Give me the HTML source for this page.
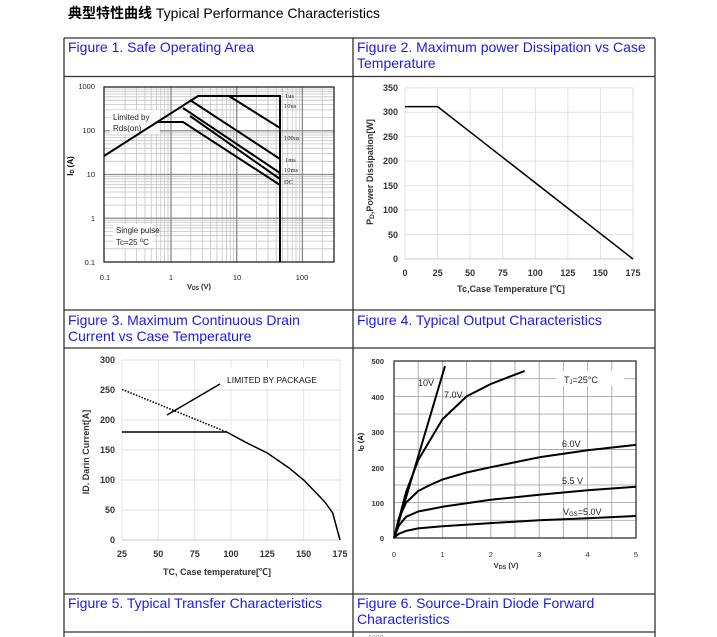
<!DOCTYPE html>
<html><head><meta charset="utf-8"><style>
body{margin:0;background:#fff;}
svg{display:block;font-family:"Liberation Sans","Noto Sans CJK SC",sans-serif;}
.h{fill:#1a1aee;font-size:14px;}
.t{font-size:9px;font-weight:bold;fill:#333;}
.s{font-size:8px;fill:#222;}
</style></head><body>
<svg width="717" height="637" viewBox="0 0 717 637">
<rect width="717" height="637" fill="#fff"/>
<text x="68" y="18" font-size="14"><tspan font-weight="bold" font-family="Noto Sans CJK SC,sans-serif">典型特性曲线</tspan> Typical Performance Characteristics</text>
<g stroke="#333" stroke-width="1.3" fill="none">
<path d="M64 38H655M64 76.5H655M64 310H655M64 348H655M64 594H655M64 632H655M64 38V637M353 38V637M655 38V637"/>
</g>
<text class="h" x="68" y="52">Figure 1. Safe Operating Area</text>
<text class="h" x="357" y="52">Figure 2. Maximum power Dissipation vs Case</text>
<text class="h" x="357" y="68">Temperature</text>
<text class="h" x="68" y="325">Figure 3. Maximum Continuous Drain</text>
<text class="h" x="68" y="341">Current vs Case Temperature</text>
<text class="h" x="357" y="325">Figure 4. Typical Output Characteristics</text>
<text class="h" x="68" y="608">Figure 5. Typical Transfer Characteristics</text>
<text class="h" x="357" y="608">Figure 6. Source-Drain Diode Forward</text>
<text class="h" x="357" y="624">Characteristics</text>
<text x="368" y="640" font-size="7" fill="#888">1000</text>

<!-- FIG 1 -->
<rect x="104" y="87" width="230" height="175" fill="#fff"/>
<g stroke="#c4c4c4" stroke-width="0.8" fill="none">
<path d="M125.1 87V262M136.6 87V262M144.9 87V262M151.2 87V262M156.4 87V262M160.8 87V262M164.6 87V262M168 87V262M190.8 87V262M202.3 87V262M210.6 87V262M216.9 87V262M222.1 87V262M226.5 87V262M230.3 87V262M233.7 87V262M256.5 87V262M268 87V262M276.3 87V262M282.6 87V262M287.8 87V262M292.2 87V262M296 87V262M299.4 87V262M322.2 87V262"/>
<path d="M104 248.8H334M104 241.1H334M104 235.7H334M104 231.4H334M104 228H334M104 225.1H334M104 222.5H334M104 220.3H334M104 205.1H334M104 197.4H334M104 192H334M104 187.7H334M104 184.3H334M104 181.4H334M104 178.8H334M104 176.6H334M104 161.3H334M104 153.6H334M104 148.2H334M104 143.9H334M104 140.5H334M104 137.6H334M104 135H334M104 132.8H334M104 117.6H334M104 109.9H334M104 104.5H334M104 100.2H334M104 96.8H334M104 93.9H334M104 91.3H334M104 89.1H334"/>
</g>
<g stroke="#8a8a8a" stroke-width="1.3" fill="none">
<path d="M171 87V262M236.7 87V262M302.4 87V262M104 218.25H334M104 174.5H334M104 130.75H334"/>
</g>
<rect x="104" y="87" width="230" height="175" fill="none" stroke="#222" stroke-width="1.3"/>
<rect x="110" y="110" width="50" height="24" fill="#fff" opacity="0.85"/>
<rect x="113" y="224" width="40" height="24" fill="#fff"/>
<g stroke="#000" stroke-width="2" fill="none" stroke-linejoin="miter">
<path d="M104 156L198 96H280V262"/>
<path d="M229 96L280 128"/>
<path d="M190 100L280 159"/>
<path d="M183 108L280 173"/>
<path d="M190 116L280 179"/>
<path d="M157 122H183L280 185"/>
</g>
<g class="s" font-size="8">
<text x="113" y="120">Limited by</text>
<text x="113" y="131">Rds(on)</text>
<text x="116" y="233">Single pulse</text>
<text x="116" y="245">Tc=25 <tspan dy="-3" font-size="6">o</tspan><tspan dy="3">C</tspan></text>
</g>
<g font-size="6.5" fill="#222" font-family="Liberation Serif,serif">
<text x="285" y="98">1us</text><text x="284" y="108">10us</text><text x="284" y="140">100us</text>
<text x="285" y="162">1ms</text><text x="284" y="172">10ms</text><text x="284" y="184">DC</text>
</g>
<g font-size="7.5" fill="#222" text-anchor="end">
<text x="95" y="89">1000</text><text x="95" y="133">100</text><text x="95" y="177">10</text><text x="95" y="221">1</text><text x="95" y="265">0.1</text>
</g>
<g font-size="7.5" fill="#222" text-anchor="middle">
<text x="105" y="280">0.1</text><text x="171" y="280">1</text><text x="237" y="280">10</text><text x="302" y="280">100</text>
<text x="199" y="289" font-weight="bold">V<tspan font-size="5" dy="1">DS</tspan><tspan dy="-1"> (V)</tspan></text>
</g>
<text transform="translate(73,166) rotate(-90)" font-size="8" font-weight="bold" text-anchor="middle">I<tspan font-size="5.5" dy="1">D</tspan><tspan dy="-1"> (A)</tspan></text>

<!-- FIG 2 -->
<g stroke="#dedede" stroke-width="0.9" fill="none">
<path d="M437.6 88V259M470.1 88V259M502.7 88V259M535.3 88V259M567.9 88V259M600.4 88V259M633 88V259M405 234.6H633M405 210.1H633M405 185.7H633M405 161.2H633M405 136.7H633M405 112.3H633M405 87.8H633M405 88V259"/>
</g>
<path d="M405 259H633" stroke="#ccc"/>
<path d="M405 106.6H437.6L633 259" stroke="#000" stroke-width="1.5" fill="none"/>
<g class="t" text-anchor="end">
<text x="398" y="91">350</text><text x="398" y="115">300</text><text x="398" y="140">250</text><text x="398" y="164">200</text><text x="398" y="189">150</text><text x="398" y="213">100</text><text x="398" y="238">50</text><text x="398" y="262">0</text>
</g>
<g class="t" text-anchor="middle">
<text x="405" y="276">0</text><text x="437.6" y="276">25</text><text x="470.1" y="276">50</text><text x="502.7" y="276">75</text><text x="535.3" y="276">100</text><text x="567.9" y="276">125</text><text x="600.4" y="276">150</text><text x="633" y="276">175</text>
<text x="511" y="292">Tc,Case Temperature [℃]</text>
</g>
<text class="t" transform="translate(373,172) rotate(-90)" text-anchor="middle">P<tspan font-size="6.5" dy="1">D</tspan><tspan dy="-1">,Power Dissipation[W]</tspan></text>

<!-- FIG 3 -->
<g stroke="#e2e2e2" stroke-width="0.9" fill="none">
<path d="M158.3 360V540M194.7 360V540M231 360V540M267.3 360V540M303.7 360V540M340 360V540M122 360V540M122 510H340M122 480H340M122 450H340M122 420H340M122 390H340M122 360H340"/>
</g>
<path d="M122 540H340" stroke="#ccc"/>
<rect x="222" y="368" width="112" height="20" fill="#fff"/>
<path d="M122 389.4L226.6 432" stroke="#000" stroke-width="1.6" stroke-dasharray="1.5,1.5" fill="none"/>
<path d="M122 432H226.6L245.5 442.2L267.3 453L289.1 468L303.7 480L318.2 495L325.5 502.8L332.7 513L340 540" stroke="#000" stroke-width="1.5" fill="none"/>
<path d="M167 415L220 384" stroke="#000" stroke-width="1.5"/>
<text x="227" y="383" font-size="8.5" fill="#111">LIMITED BY PACKAGE</text>
<g class="t" text-anchor="end">
<text x="115" y="363">300</text><text x="115" y="393">250</text><text x="115" y="423">200</text><text x="115" y="453">150</text><text x="115" y="483">100</text><text x="115" y="513">50</text><text x="115" y="543">0</text>
</g>
<g class="t" text-anchor="middle">
<text x="122" y="557">25</text><text x="158.3" y="557">50</text><text x="194.7" y="557">75</text><text x="231" y="557">100</text><text x="267.3" y="557">125</text><text x="303.7" y="557">150</text><text x="340" y="557">175</text>
<text x="217" y="575">TC, Case temperature[℃]</text>
</g>
<text class="t" transform="translate(89,452) rotate(-90)" text-anchor="middle">ID.  Darin Current[A]</text>

<!-- FIG 4 -->
<g stroke="#a8a8a8" stroke-width="0.9" fill="none">
<path d="M418.2 361V538M442.4 361V538M466.6 361V538M490.8 361V538M515 361V538M539.2 361V538M563.4 361V538M587.6 361V538M611.8 361V538M394 520.3H636M394 502.6H636M394 484.9H636M394 467.2H636M394 449.5H636M394 431.8H636M394 414.1H636M394 396.4H636M394 378.7H636"/>
</g>
<rect x="394" y="361" width="242" height="177" fill="none" stroke="#222" stroke-width="1.2"/>
<rect x="556" y="371" width="68" height="15" fill="#fff"/>
<g stroke="#000" stroke-width="2" fill="none" stroke-linejoin="round">
<path d="M394 538L445 366"/>
<polyline points="394,538 406.1,492 418.2,460.1 442.4,419.4 466.6,396.4 490.8,384 524.7,370.9"/>
<polyline points="394,538 398.8,518.5 406.1,502.6 418.2,491 430,485 442.4,479.6 466.6,472.5 490.8,467.2 539.2,457.3 587.6,450.2 636,444.9"/>
<polyline points="394,538 398.8,525.6 406.1,516.8 418.2,511.5 442.4,506.8 490.8,499.8 539.2,494.8 587.6,490.2 636,486.7"/>
<polyline points="394,538 398.8,533.8 406.1,530.9 418.2,528.4 442.4,526.3 490.8,523.1 539.2,520.3 587.6,518.2 636,516"/>
</g>
<g font-size="9" fill="#222">
<text x="418" y="386">10V</text><text x="444" y="398">7.0V</text>
<text x="562" y="447">6.0V</text><text x="562" y="484">5.5 V</text>
<text x="563" y="515">V<tspan font-size="6" dy="1">GS</tspan><tspan dy="-1">=5.0V</tspan></text>
<text x="564" y="383">T<tspan font-size="6" dy="1">J</tspan><tspan dy="-1">=25°C</tspan></text>
</g>
<g font-size="7.5" font-weight="bold" fill="#333" text-anchor="end">
<text x="384" y="364">500</text><text x="384" y="400">400</text><text x="384" y="435">300</text><text x="384" y="471">200</text><text x="384" y="506">100</text><text x="384" y="541">0</text>
</g>
<g font-size="7.5" fill="#333" text-anchor="middle">
<text x="394" y="557">0</text><text x="442.4" y="557">1</text><text x="490.8" y="557">2</text><text x="539.2" y="557">3</text><text x="587.6" y="557">4</text><text x="636" y="557">5</text>
<text x="506" y="568" font-weight="bold">V<tspan font-size="5.5" dy="1">DS</tspan><tspan dy="-1"> (V)</tspan></text>
</g>
<text transform="translate(363,442) rotate(-90)" font-size="7.5" font-weight="bold" text-anchor="middle">I<tspan font-size="5.5" dy="1">D</tspan><tspan dy="-1"> (A)</tspan></text>
</svg>
</body></html>
